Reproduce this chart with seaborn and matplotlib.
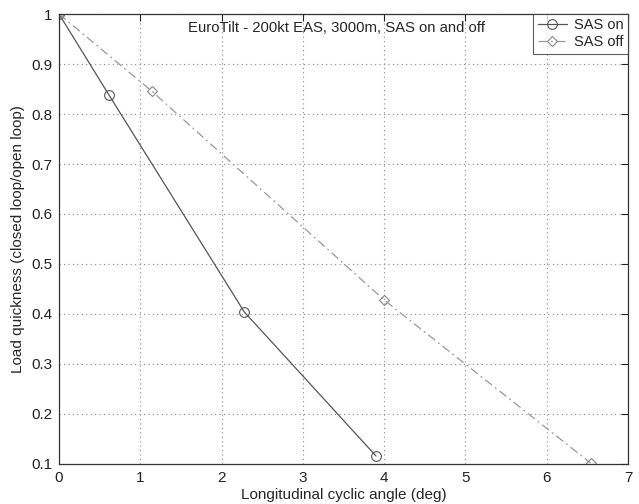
import numpy as np
import pandas as pd
import matplotlib
matplotlib.use("Agg")
import matplotlib.pyplot as plt
import seaborn as sns

on_x = [0.0, 0.615, 2.28, 3.90]
on_y = [1.0, 0.838, 0.404, 0.116]
off_x = [0.0, 1.14, 4.0, 6.54]
off_y = [1.0, 0.846, 0.428, 0.102]
series_names = ["SAS on", "SAS off"]
title_text = "EuroTilt - 200kt EAS, 3000m, SAS on and off"
xticks = [0, 1, 2, 3, 4, 5, 6, 7]
yticks = [0.1, 0.2, 0.3, 0.4, 0.5, 0.6, 0.7, 0.8, 0.9, 1.0]
ytick_labels = ["0.1", "0.2", "0.3", "0.4", "0.5", "0.6", "0.7", "0.8", "0.9", "1"]

sns.set_style("white")
plt.rcParams['font.family'] = ['Liberation Sans', 'DejaVu Sans']

fig = plt.figure(figsize=(6.39, 5.04), dpi=100)
ax = fig.add_axes([0.0923, 0.0794, 0.8905, 0.8928])

df_on = pd.DataFrame({"x": on_x, "y": on_y})
df_off = pd.DataFrame({"x": off_x, "y": off_y})

sns.lineplot(data=df_on, x="x", y="y", ax=ax, color="#555555", lw=0.9,
             marker="o", markersize=7, markerfacecolor="none",
             markeredgecolor="#555555", markeredgewidth=0.8,
             label=series_names[0], sort=False)
sns.lineplot(data=df_off, x="x", y="y", ax=ax, color="#999999", lw=0.9,
             marker="D", markersize=5.5, markerfacecolor="none",
             markeredgecolor="#888888", markeredgewidth=0.8,
             label=series_names[1], sort=False)
ax.lines[1].set_dashes([7, 3, 1.5, 3])

ax.set_xlim(0, 7)
ax.set_ylim(0.1, 1.0)
ax.set_xticks(xticks)
ax.set_yticks(yticks)
ax.set_yticklabels(ytick_labels)
ax.grid(True, linestyle=(0, (1, 3)), color="#888888", linewidth=0.8)
ax.tick_params(direction="in", length=5, width=0.8, top=True, right=True,
               labelsize=11, colors="#222222", pad=5)
for s in ax.spines.values():
    s.set_color("#333333")
    s.set_linewidth(0.9)
    s.set_visible(True)

ax.set_xlabel("Longitudinal cyclic angle (deg)", fontsize=11, labelpad=2)
ax.set_ylabel("Load quickness (closed loop/open loop)", fontsize=11, labelpad=4)
ax.text(3.42, 0.972, title_text, ha="center", va="center", fontsize=10.7)

leg = ax.legend(loc="upper right", fontsize=10.5, frameon=True, fancybox=False,
                edgecolor="#333333", borderaxespad=0.0, handlelength=2.0,
                borderpad=0.3, labelspacing=0.2, handletextpad=0.5)
leg.get_frame().set_linewidth(0.8)

fig.savefig("out.png", dpi=100)
